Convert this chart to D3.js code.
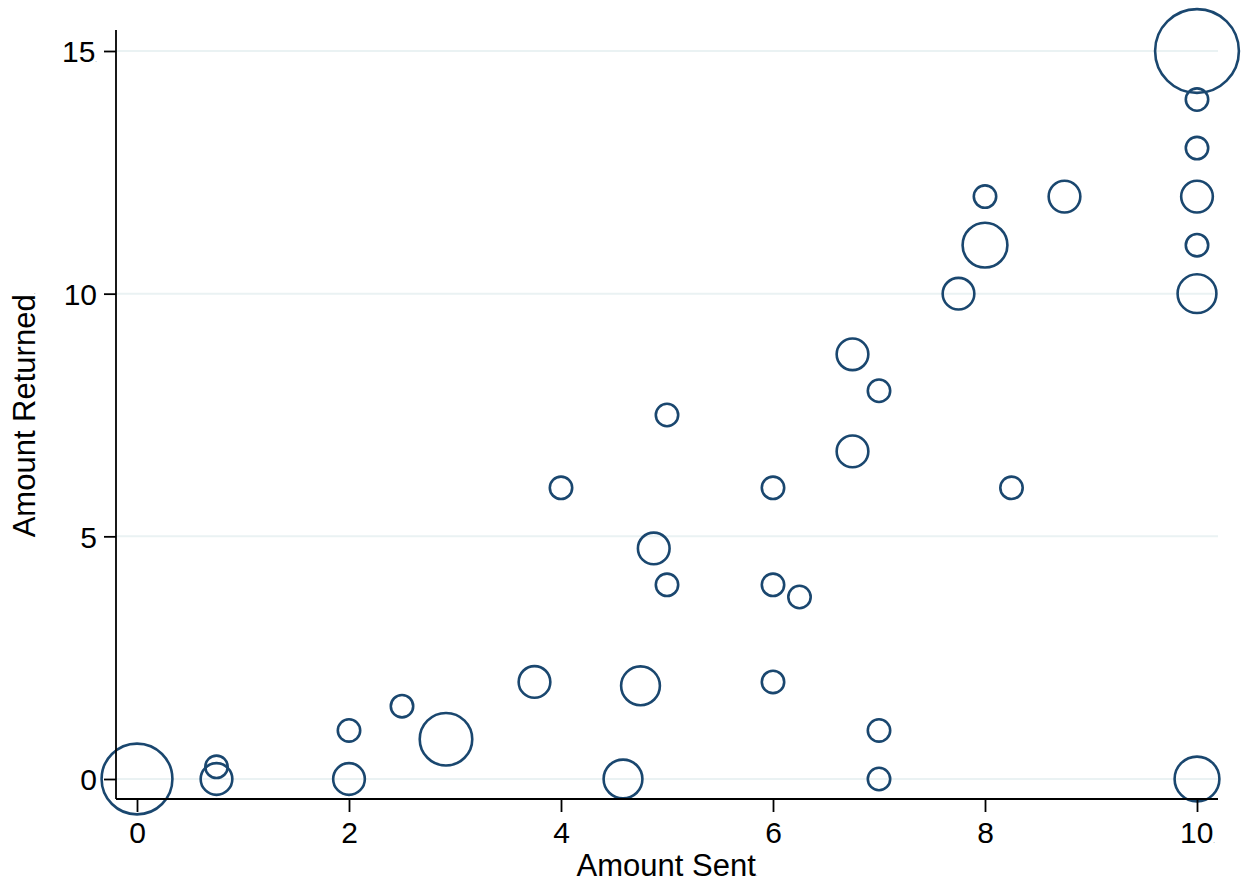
<!DOCTYPE html>
<html>
<head>
<meta charset="utf-8">
<script src="https://cdn.jsdelivr.net/npm/d3@7"></script>
<style>
  body { margin: 0; background: #fff; }
  svg { display: block; }
  text { font-family: "Liberation Sans", Arial, Helvetica, sans-serif; fill: #000; }
</style>
</head>
<body>
<svg id="chart" width="1247" height="886"></svg>
<script>
// amount sent / amount returned, bubble size = weight (frequency)
var amountSent = [0, 0.75, 0.75, 2, 2, 2.5, 2.915, 3.75, 4, 4.75, 4.585, 4.875, 5, 5,
    6, 6, 6, 6.25, 6.75, 6.75, 7, 7, 7, 7.75, 8, 8, 8.75, 8.25,
    10, 10, 10, 10, 10, 10, 10];
var amountReturned = [0, 0.25, 0, 1, 0, 1.5, 0.82, 2, 6, 1.92, 0, 4.75, 7.5, 4,
    6, 4, 2, 3.75, 8.75, 6.75, 8, 1, 0, 10, 12, 11, 12, 6,
    15, 14, 13, 12, 11, 10, 0];
var weight = [10, 1, 2, 1, 2, 1, 5.5, 2, 1, 3, 3, 2, 1, 1,
    1, 1, 1, 1, 2, 2, 1, 1, 1, 2, 1, 4, 2, 1,
    14, 1, 1, 2, 1, 3, 4];
var xTicks = [0, 2, 4, 6, 8, 10];
var yTicks = [0, 5, 10, 15];

var svg = d3.select('#chart');

// plot region (axis lines) and the inner data range
var plot = {left: 116, right: 1218, top: 30, bottom: 799};
var x = d3.scaleLinear().domain([0, 10]).range([137, 1197]);
var y = d3.scaleLinear().domain([0, 15]).range([779, 51]);
var r = d3.scaleSqrt().domain([0, 1]).range([0, 11.2]);

var points = amountSent.map(function (d, i) {
    return {x: d, y: amountReturned[i], w: weight[i]};
});

// gridlines
svg.append('g').selectAll('line').data(yTicks).enter().append('line')
    .attr('x1', plot.left).attr('x2', plot.right)
    .attr('y1', function (d) { return y(d); })
    .attr('y2', function (d) { return y(d); })
    .attr('stroke', '#eaf2f3')
    .attr('stroke-width', 2);

// bubbles
svg.append('g').selectAll('circle').data(points).enter().append('circle')
    .attr('cx', function (d) { return x(d.x); })
    .attr('cy', function (d) { return y(d.y); })
    .attr('r', function (d) { return r(d.w); })
    .attr('fill', 'none')
    .attr('stroke', '#1a476f')
    .attr('stroke-width', 2.6);

// axes
var xAxis = d3.axisBottom(x).tickValues(xTicks).tickSize(13).tickPadding(10).tickSizeOuter(0);
var yAxis = d3.axisLeft(y).tickValues(yTicks).tickSize(12).tickPadding(7).tickSizeOuter(0);

var gx = svg.append('g').attr('transform', 'translate(0,' + plot.bottom + ')').call(xAxis);
var gy = svg.append('g').attr('transform', 'translate(' + plot.left + ',0)').call(yAxis);

[gx, gy].forEach(function (g) {
    g.select('.domain').remove();
    g.selectAll('.tick line').attr('stroke', '#000').attr('stroke-width', 1.8);
    g.selectAll('.tick text')
        .attr('font-family', '"Liberation Sans", Arial, sans-serif')
        .attr('font-size', 30)
        .attr('fill', '#000');
});
gy.selectAll('.tick text').attr('dy', '0.36em');

// little trailing dots on the end labels, as in the original export
gy.selectAll('.tick text').filter(function (d) { return d === 15; })
    .append('tspan').attr('font-size', 6).attr('fill', '#555').text('.');
gx.selectAll('.tick text').filter(function (d) { return d === 10; })
    .append('tspan').attr('font-size', 6).attr('fill', '#555').text('.');

// axis lines
svg.append('line')
    .attr('x1', plot.left).attr('x2', plot.left)
    .attr('y1', plot.top).attr('y2', plot.bottom)
    .attr('stroke', '#000').attr('stroke-width', 1.8);
svg.append('line')
    .attr('x1', plot.left).attr('x2', plot.right)
    .attr('y1', plot.bottom).attr('y2', plot.bottom)
    .attr('stroke', '#000').attr('stroke-width', 1.8);

// axis titles
var xTitle = svg.append('text')
    .attr('x', (plot.left + plot.right) / 2)
    .attr('y', 876)
    .attr('text-anchor', 'middle')
    .attr('font-size', 31)
    .text('Amount Sent');
xTitle.append('tspan').attr('font-size', 6).attr('fill', '#555').text('.');

var yTitle = svg.append('text')
    .attr('transform', 'translate(35,' + 415 + ') rotate(-90)')
    .attr('text-anchor', 'middle')
    .attr('font-size', 31)
    .text('Amount Returned');
yTitle.append('tspan').attr('font-size', 6).attr('fill', '#555').text('.');
</script>
</body>
</html>
